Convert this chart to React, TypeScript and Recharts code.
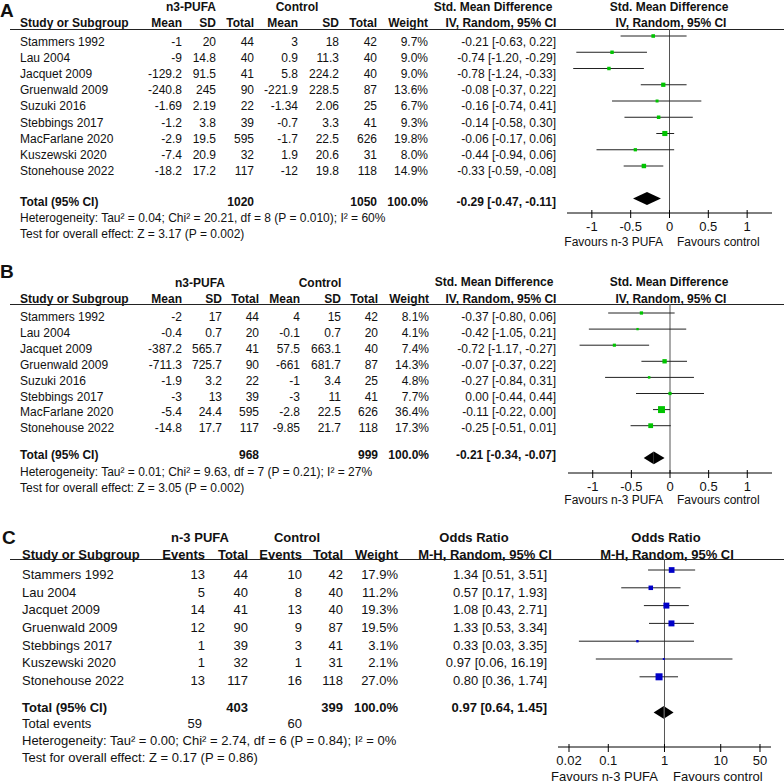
import React from 'react'
import { ScatterChart, Scatter, XAxis, YAxis, ErrorBar, ReferenceLine, ReferenceArea } from 'recharts'

// ---- Panel A: Std. Mean Difference ----
const studiesA = ['Stammers 1992', 'Lau 2004', 'Jacquet 2009', 'Gruenwald 2009', 'Suzuki 2016', 'Stebbings 2017', 'MacFarlane 2020', 'Kuszewski 2020', 'Stonehouse 2022']
const n3MeanA = [-1, -9, -129.2, -240.8, -1.69, -1.2, -2.9, -7.4, -18.2]
const n3SdA = [20, 14.8, 91.5, 245, 2.19, 3.8, 19.5, 20.9, 17.2]
const n3TotalA = [44, 40, 41, 90, 22, 39, 595, 32, 117]
const ctlMeanA = [3, 0.9, 5.8, -221.9, -1.34, -0.7, -1.7, 1.9, -12]
const ctlSdA = [18, 11.3, 224.2, 228.5, 2.06, 3.3, 22.5, 20.6, 19.8]
const ctlTotalA = [42, 40, 40, 87, 25, 41, 626, 31, 118]
const weightA = [9.7, 9.0, 9.0, 13.6, 6.7, 9.3, 19.8, 8.0, 14.9]
const smdA = [-0.21, -0.74, -0.78, -0.08, -0.16, -0.14, -0.06, -0.44, -0.33]
const loA = [-0.63, -1.2, -1.24, -0.37, -0.74, -0.58, -0.17, -0.94, -0.59]
const hiA = [0.22, -0.29, -0.33, 0.22, 0.41, 0.3, 0.06, 0.06, -0.08]
const totalA = { n3: 1020, ctl: 1050, est: -0.29, lo: -0.47, hi: -0.11 }
const hetA = 'Heterogeneity: Tau² = 0.04; Chi² = 20.21, df = 8 (P = 0.010); I² = 60%'
const testA = 'Test for overall effect: Z = 3.17 (P = 0.002)'

// ---- Panel B: Std. Mean Difference ----
const studiesB = ['Stammers 1992', 'Lau 2004', 'Jacquet 2009', 'Gruenwald 2009', 'Suzuki 2016', 'Stebbings 2017', 'MacFarlane 2020', 'Stonehouse 2022']
const n3MeanB = [-2, -0.4, -387.2, -711.3, -1.9, -3, -5.4, -14.8]
const n3SdB = [17, 0.7, 565.7, 725.7, 3.2, 13, 24.4, 17.7]
const n3TotalB = [44, 20, 41, 90, 22, 39, 595, 117]
const ctlMeanB = [4, -0.1, 57.5, -661, -1, -3, -2.8, -9.85]
const ctlSdB = [15, 0.7, 663.1, 681.7, 3.4, 11, 22.5, 21.7]
const ctlTotalB = [42, 20, 40, 87, 25, 41, 626, 118]
const weightB = [8.1, 4.1, 7.4, 14.3, 4.8, 7.7, 36.4, 17.3]
const smdB = [-0.37, -0.42, -0.72, -0.07, -0.27, 0.0, -0.11, -0.25]
const loB = [-0.8, -1.05, -1.17, -0.37, -0.84, -0.44, -0.22, -0.51]
const hiB = [0.06, 0.21, -0.27, 0.22, 0.31, 0.44, 0.0, 0.01]
const totalB = { n3: 968, ctl: 999, est: -0.21, lo: -0.34, hi: -0.07 }
const hetB = 'Heterogeneity: Tau² = 0.01; Chi² = 9.63, df = 7 (P = 0.21); I² = 27%'
const testB = 'Test for overall effect: Z = 3.05 (P = 0.002)'

// ---- Panel C: Odds Ratio ----
const studiesC = ['Stammers 1992', 'Lau 2004', 'Jacquet 2009', 'Gruenwald 2009', 'Stebbings 2017', 'Kuszewski 2020', 'Stonehouse 2022']
const n3EventsC = [13, 5, 14, 12, 1, 1, 13]
const n3TotalC = [44, 40, 41, 90, 39, 32, 117]
const ctlEventsC = [10, 8, 13, 9, 3, 1, 16]
const ctlTotalC = [42, 40, 40, 87, 41, 31, 118]
const weightC = [17.9, 11.2, 19.3, 19.5, 3.1, 2.1, 27.0]
const orC = [1.34, 0.57, 1.08, 1.33, 0.33, 0.97, 0.8]
const loC = [0.51, 0.17, 0.43, 0.53, 0.03, 0.06, 0.36]
const hiC = [3.51, 1.93, 2.71, 3.34, 3.35, 16.19, 1.74]
const totalC = { n3: 403, ctl: 399, n3Events: 59, ctlEvents: 60, est: 0.97, lo: 0.64, hi: 1.45 }
const hetC = 'Heterogeneity: Tau² = 0.00; Chi² = 2.74, df = 6 (P = 0.84); I² = 0%'
const testC = 'Test for overall effect: Z = 0.17 (P = 0.86)'

const smdTicks = [-1, -0.5, 0, 0.5, 1]
const orTicks = [0.02, 0.1, 1, 10, 50]

const FONT = '"Liberation Sans", Arial, Helvetica, sans-serif'
const INK = '#111'

type Align = 'l' | 'r' | 'c'

function T({ x, y, a = 'l', s = 12, b = false, children }: { x: number; y: number; a?: Align; s?: number; b?: boolean; children: React.ReactNode }) {
  const w = 400
  const left = a === 'l' ? x : a === 'r' ? x - w : x - w / 2
  return (
    <div style={{
      position: 'absolute', left, top: y, width: w, transform: 'translateY(-50%)',
      textAlign: a === 'l' ? 'left' : a === 'r' ? 'right' : 'center',
      fontSize: s, fontWeight: b ? 700 : 400, lineHeight: 1, whiteSpace: 'nowrap', color: INK,
    }}>{children}</div>
  )
}

const Rule = ({ y }: { y: number }) => (
  <div style={{ position: 'absolute', left: 10, top: y, width: 774, height: 1, background: '#222' }} />
)

const pct = (v: number) => `${v.toFixed(1)}%`
const ci = (e: number, l: number, h: number) => `${e.toFixed(2)} [${l.toFixed(2)}, ${h.toFixed(2)}]`

// table body: one column per entry, rows stepped down
function Rows({ cols, y0, step, s }: { cols: { vals: (string | number)[]; x: number; a: Align }[]; y0: number; step: number; s: number }) {
  return (
    <>
      {cols.map((c, ci_) => c.vals.map((v, i) => (
        <T key={`${ci_}-${i}`} x={c.x} y={y0 + i * step} a={c.a} s={s}>{String(v)}</T>
      )))}
    </>
  )
}

const leftTri = (p: any) => (
  <polygon points={`${p.x},${p.y + p.height / 2} ${p.x + p.width},${p.y} ${p.x + p.width},${p.y + p.height}`} fill="#000" />
)
const rightTri = (p: any) => (
  <polygon points={`${p.x},${p.y} ${p.x + p.width},${p.y + p.height / 2} ${p.x},${p.y + p.height}`} fill="#000" />
)

interface ForestProps {
  est: number[]; lo: number[]; hi: number[]; w: number[]
  total: { est: number; lo: number; hi: number }
  plotLeft: number; plotRight: number; top: number; axisY: number
  row0: number; step: number; totalIdx: number; halfH: number
  domain: [number, number]; ticks: number[]; log?: boolean; nullX: number
  color: string; k: number; fs: number
}

function Forest(p: ForestProps) {
  const pad = 20
  const plotW = p.plotRight - p.plotLeft
  const axisH = 24
  const h = p.axisY - p.top + axisH
  const ymin = -(p.row0 - p.top) / p.step
  const ymax = (p.axisY - p.row0) / p.step
  const pts = p.est.map((v, i) => ({ x: v, y: i, w: p.w[i], err: [v - p.lo[i], p.hi[i] - v] }))
  const square = (s: any) => {
    const side = p.k * Math.sqrt(s.payload.w)
    return <rect x={s.cx - side / 2} y={s.cy - side / 2} width={side} height={side} fill={p.color} />
  }
  const tick = (t: any) => {
    const ay = t.y - 9
    return (
      <g>
        <line x1={t.x} x2={t.x} y1={ay - 3} y2={ay + 5} stroke="#000" />
        <text x={t.x} y={t.y} dy="0.71em" textAnchor="middle" fontSize={p.fs} fill={INK} fontFamily={FONT}>{t.payload.value}</text>
      </g>
    )
  }
  return (
    <div style={{ position: 'absolute', left: p.plotLeft - pad, top: p.top }}>
      <ScatterChart width={plotW + 2 * pad} height={h} margin={{ top: 0, right: pad, bottom: 0, left: pad }}>
        <XAxis type="number" dataKey="x" domain={p.domain} ticks={p.ticks} scale={p.log ? 'log' : 'auto'}
          allowDataOverflow interval={0} height={axisH} tickSize={5} tickMargin={4} tickLine={false}
          axisLine={{ stroke: '#000' }} tick={tick} />
        <YAxis type="number" dataKey="y" domain={[ymin, ymax]} reversed hide allowDataOverflow />
        <ReferenceLine x={p.nullX} stroke="#555" strokeWidth={1} />
        <Scatter data={pts} shape={square} isAnimationActive={false}>
          <ErrorBar dataKey="err" direction="x" width={0} stroke="#222" strokeWidth={1} />
        </Scatter>
        <ReferenceArea x1={p.total.lo} x2={p.total.est} y1={p.totalIdx - p.halfH} y2={p.totalIdx + p.halfH} shape={leftTri} />
        <ReferenceArea x1={p.total.est} x2={p.total.hi} y1={p.totalIdx - p.halfH} y2={p.totalIdx + p.halfH} shape={rightTri} />
      </ScatterChart>
    </div>
  )
}

export default function App() {
  return (
    <div style={{ position: 'absolute', left: 0, top: 0, width: 784, height: 782, background: '#fff', fontFamily: FONT, overflow: 'hidden' }}>
      {/* ===== A ===== */}
      <T x={0} y={10} s={19} b>A</T>
      <T x={191} y={7} a="c" b>n3-PUFA</T>
      <T x={297} y={7} a="c" b>Control</T>
      <T x={493} y={7} a="c" b>Std. Mean Difference</T>
      <T x={669} y={7} a="c" b>Std. Mean Difference</T>
      <T x={20} y={23} b>Study or Subgroup</T>
      <T x={182} y={23} a="r" b>Mean</T>
      <T x={216} y={23} a="r" b>SD</T>
      <T x={254} y={23} a="r" b>Total</T>
      <T x={298} y={23} a="r" b>Mean</T>
      <T x={339} y={23} a="r" b>SD</T>
      <T x={377} y={23} a="r" b>Total</T>
      <T x={428} y={23} a="r" b>Weight</T>
      <T x={501} y={23} a="c" b>IV, Random, 95% CI</T>
      <T x={671} y={23} a="c" b>IV, Random, 95% CI</T>
      <Rule y={29} />
      <Rows y0={42} step={16.12} s={12} cols={[
        { vals: studiesA, x: 20, a: 'l' },
        { vals: n3MeanA, x: 182, a: 'r' },
        { vals: n3SdA, x: 216, a: 'r' },
        { vals: n3TotalA, x: 254, a: 'r' },
        { vals: ctlMeanA, x: 298, a: 'r' },
        { vals: ctlSdA, x: 339, a: 'r' },
        { vals: ctlTotalA, x: 377, a: 'r' },
        { vals: weightA.map(pct), x: 428, a: 'r' },
        { vals: smdA.map((v, i) => ci(v, loA[i], hiA[i])), x: 556, a: 'r' },
      ]} />
      <T x={20} y={202} b>Total (95% CI)</T>
      <T x={254} y={202} a="r" b>{totalA.n3}</T>
      <T x={377} y={202} a="r" b>{totalA.ctl}</T>
      <T x={428} y={202} a="r" b>100.0%</T>
      <T x={556} y={202} a="r" b>{ci(totalA.est, totalA.lo, totalA.hi)}</T>
      <T x={20} y={218}>{hetA}</T>
      <T x={20} y={234}>{testA}</T>
      <Forest est={smdA} lo={loA} hi={hiA} w={weightA} total={totalA}
        plotLeft={567} plotRight={772} top={29} axisY={213} row0={36} step={16.25} totalIdx={10} halfH={0.4}
        domain={[-1.32, 1.32]} ticks={smdTicks} nullX={0} color="#00c400" k={1.15} fs={13} />
      <T x={663} y={242} a="r">Favours n-3 PUFA</T>
      <T x={677} y={242}>Favours control</T>

      {/* ===== B ===== */}
      <T x={0} y={271} s={19} b>B</T>
      <T x={200} y={283} a="c" b>n3-PUFA</T>
      <T x={320} y={283} a="c" b>Control</T>
      <T x={494} y={282} a="c" b>Std. Mean Difference</T>
      <T x={669} y={282} a="c" b>Std. Mean Difference</T>
      <T x={20} y={299} b>Study or Subgroup</T>
      <T x={182} y={299} a="r" b>Mean</T>
      <T x={222} y={299} a="r" b>SD</T>
      <T x={259} y={299} a="r" b>Total</T>
      <T x={300} y={299} a="r" b>Mean</T>
      <T x={341} y={299} a="r" b>SD</T>
      <T x={378} y={299} a="r" b>Total</T>
      <T x={429} y={299} a="r" b>Weight</T>
      <T x={501} y={299} a="c" b>IV, Random, 95% CI</T>
      <T x={671} y={299} a="c" b>IV, Random, 95% CI</T>
      <Rule y={304} />
      <Rows y0={317} step={15.9} s={12} cols={[
        { vals: studiesB, x: 20, a: 'l' },
        { vals: n3MeanB, x: 182, a: 'r' },
        { vals: n3SdB, x: 222, a: 'r' },
        { vals: n3TotalB, x: 259, a: 'r' },
        { vals: ctlMeanB, x: 300, a: 'r' },
        { vals: ctlSdB, x: 341, a: 'r' },
        { vals: ctlTotalB, x: 378, a: 'r' },
        { vals: weightB.map(pct), x: 429, a: 'r' },
        { vals: smdB.map((v, i) => ci(v, loB[i], hiB[i])), x: 556, a: 'r' },
      ]} />
      <T x={20} y={455} b>Total (95% CI)</T>
      <T x={259} y={455} a="r" b>{totalB.n3}</T>
      <T x={378} y={455} a="r" b>{totalB.ctl}</T>
      <T x={429} y={455} a="r" b>100.0%</T>
      <T x={556} y={455} a="r" b>{ci(totalB.est, totalB.lo, totalB.hi)}</T>
      <T x={20} y={472}>{hetB}</T>
      <T x={20} y={488}>{testB}</T>
      <Forest est={smdB} lo={loB} hi={hiB} w={weightB} total={totalB}
        plotLeft={568} plotRight={772} top={304} axisY={473} row0={313} step={16.1} totalIdx={9} halfH={0.4}
        domain={[-1.32, 1.32]} ticks={smdTicks} nullX={0} color="#00c400" k={1.15} fs={13} />
      <T x={663} y={500} a="r">Favours n-3 PUFA</T>
      <T x={677} y={500}>Favours control</T>

      {/* ===== C ===== */}
      <T x={2} y={537} s={19} b>C</T>
      <T x={200} y={537} a="c" s={13} b>n-3 PUFA</T>
      <T x={297} y={537} a="c" s={13} b>Control</T>
      <T x={474} y={537} a="c" s={13} b>Odds Ratio</T>
      <T x={666} y={537} a="c" s={13} b>Odds Ratio</T>
      <T x={22} y={554} s={13} b>Study or Subgroup</T>
      <T x={205} y={554} a="r" s={13} b>Events</T>
      <T x={248} y={554} a="r" s={13} b>Total</T>
      <T x={302} y={554} a="r" s={13} b>Events</T>
      <T x={343} y={554} a="r" s={13} b>Total</T>
      <T x={398} y={554} a="r" s={13} b>Weight</T>
      <T x={485} y={554} a="c" s={13} b>M-H, Random, 95% CI</T>
      <T x={667} y={554} a="c" s={13} b>M-H, Random, 95% CI</T>
      <Rule y={559} />
      <Rows y0={574} step={17.67} s={13} cols={[
        { vals: studiesC, x: 22, a: 'l' },
        { vals: n3EventsC, x: 205, a: 'r' },
        { vals: n3TotalC, x: 248, a: 'r' },
        { vals: ctlEventsC, x: 302, a: 'r' },
        { vals: ctlTotalC, x: 343, a: 'r' },
        { vals: weightC.map(pct), x: 398, a: 'r' },
        { vals: orC.map((v, i) => ci(v, loC[i], hiC[i])), x: 547, a: 'r' },
      ]} />
      <T x={22} y={707} s={13} b>Total (95% CI)</T>
      <T x={248} y={707} a="r" s={13} b>{totalC.n3}</T>
      <T x={343} y={707} a="r" s={13} b>{totalC.ctl}</T>
      <T x={398} y={707} a="r" s={13} b>100.0%</T>
      <T x={547} y={707} a="r" s={13} b>{ci(totalC.est, totalC.lo, totalC.hi)}</T>
      <T x={22} y={723} s={13}>Total events</T>
      <T x={202} y={723} a="r" s={13}>{totalC.n3Events}</T>
      <T x={302} y={723} a="r" s={13}>{totalC.ctlEvents}</T>
      <T x={22} y={740} s={13}>{hetC}</T>
      <T x={22} y={757} s={13}>{testC}</T>
      <Forest est={orC} lo={loC} hi={hiC} w={weightC} total={totalC}
        plotLeft={558} plotRight={771} top={559} axisY={747} row0={570} step={17.8} totalIdx={8} halfH={0.36}
        domain={[0.01274, 78.5]} ticks={orTicks} log nullX={1} color="#0000c8" k={1.35} fs={13} />
      <T x={658} y={776} a="r" s={13}>Favours n-3 PUFA</T>
      <T x={673} y={776} s={13}>Favours control</T>
    </div>
  )
}
